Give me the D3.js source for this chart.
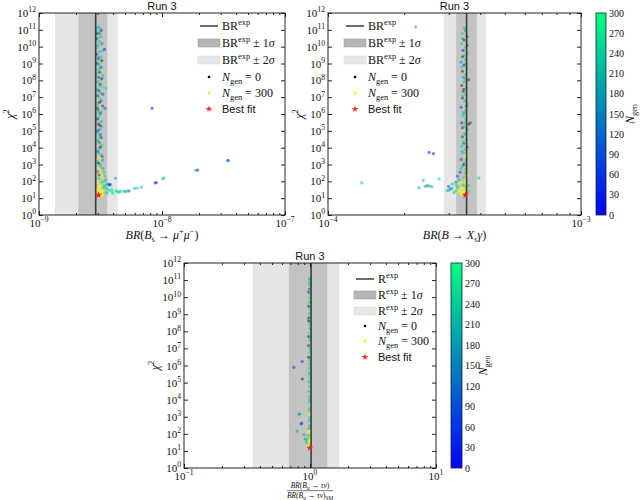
<!DOCTYPE html>
<html>
<head>
<meta charset="utf-8">
<script src="https://cdn.jsdelivr.net/npm/d3@7/dist/d3.min.js"></script>
<style>
  body { margin: 0; background: #fff; }
  svg { display: block; }
  text { font-family: "Liberation Serif", "DejaVu Serif", serif; fill: #111; }
  .sans { font-family: "Liberation Sans", Arial, sans-serif; }
</style>
</head>
<body>
<div id="chart"></div>
<script>
// ---- data ----
const titleText = "Run 3";
const chiExps = [0, 1, 2, 3, 4, 5, 6, 7, 8, 9, 10, 11, 12];
const genTicks = [0, 30, 60, 90, 120, 150, 180, 210, 240, 270, 300];

// B_s -> mu mu : experimental value and bands
const bsmmDomain = [1e-9, 1e-7];
const bsmmExps = [-9, -8, -7];
const bsmmExp = 2.89e-9;
const bsmmBand1 = [2.09e-9, 3.59e-9];
const bsmmBand2 = [1.35e-9, 4.36e-9];
// [BR, chi2, generation]
const bsmmPoints = [
  [3.05e-9, 1.5e11, 250], [3.15e-9, 1.2e11, 220], [3.0e-9, 8e10, 270], [3.1e-9, 6e10, 140],
  [3.2e-9, 4e10, 260], [2.95e-9, 3e10, 100], [3.1e-9, 2e10, 240], [3.25e-9, 1.5e10, 180],
  [3.0e-9, 9e9, 290], [3.4e-9, 7e9, 60], [3.1e-9, 5e9, 230], [2.95e-9, 3.5e9, 70],
  [3.2e-9, 2.5e9, 260], [3.05e-9, 1.8e9, 200], [3.15e-9, 1.2e9, 280], [2.98e-9, 1e9, 0],
  [3.1e-9, 8e8, 250], [3.2e-9, 6e8, 120], [3.0e-9, 4e8, 270], [3.12e-9, 3e8, 0],
  [3.3e-9, 2e8, 230], [3.05e-9, 1.5e8, 90], [3.2e-9, 1.1e8, 260], [3.0e-9, 8e7, 210],
  [3.15e-9, 6e7, 0], [3.25e-9, 4e7, 280], [3.5e-9, 3.5e7, 250], [3.05e-9, 2.5e7, 60],
  [3.15e-9, 1.8e7, 240], [3.0e-9, 1.2e7, 0], [3.1e-9, 9e6, 270], [3.2e-9, 6e6, 130],
  [3.0e-9, 4e6, 250], [3.3e-9, 3e6, 0], [3.45e-9, 2.2e6, 110], [3.05e-9, 1.5e6, 230],
  [3.15e-9, 1.1e6, 80], [3.1e-9, 8e5, 260], [3.0e-9, 5e5, 0], [3.2e-9, 3.5e5, 220],
  [3.05e-9, 2.5e5, 50], [3.25e-9, 1.7e5, 270], [3.1e-9, 1.2e5, 190], [3.0e-9, 8e4, 250],
  [3.15e-9, 6e4, 100], [3.2e-9, 4e4, 0], [3.05e-9, 3e4, 280], [3.1e-9, 2e4, 160],
  [3.25e-9, 1.4e4, 240], [3.1e-9, 9e3, 230], [3.0e-9, 6e3, 70], [3.2e-9, 4e3, 270],
  [3.1e-9, 2.5e3, 300], [3.3e-9, 1.8e3, 200], [3.05e-9, 1.2e3, 0], [3.15e-9, 8e2, 250],
  [3.3e-9, 6e2, 220], [3.0e-9, 4e2, 120], [3.2e-9, 3e2, 300], [3.4e-9, 2e2, 260],
  [3.1e-9, 1.5e2, 280], [3.5e-9, 1.2e2, 240], [3.0e-9, 90, 300], [3.2e-9, 80, 270],
  [3.6e-9, 70, 150], [3.8e-9, 65, 90], [3.4e-9, 55, 250], [3.1e-9, 45, 300],
  [3.3e-9, 40, 260], [3.6e-9, 35, 240], [3.9e-9, 33, 270], [4.2e-9, 28, 280],
  [4.6e-9, 26, 260], [5.0e-9, 25, 250], [3.2e-9, 30, 300], [3.05e-9, 25, 300],
  [3.15e-9, 20, 300], [3.5e-9, 22, 270], [4.0e-9, 20, 280], [4.4e-9, 22, 290],
  [3.1e-9, 18, 300], [3.25e-9, 16, 300], [2.95e-9, 6e10, 0], [3.0e-9, 2e6, 0],
  [2.95e-9, 1.3e11, 230], [3.2e-9, 9e10, 60], [3.1e-9, 3.5e10, 270], [3.0e-9, 1.2e10, 250],
  [3.3e-9, 6e9, 240], [3.05e-9, 2.2e9, 120], [3.25e-9, 1.5e9, 0], [3.1e-9, 5e8, 230],
  [2.95e-9, 2.5e8, 260], [3.25e-9, 1.3e8, 0], [3.1e-9, 5e7, 250], [2.98e-9, 3e7, 270],
  [3.3e-9, 1.5e7, 100], [3.1e-9, 5e6, 0], [2.98e-9, 2.5e6, 240], [3.2e-9, 1.3e6, 260],
  [3.0e-9, 6e5, 270], [3.15e-9, 2e5, 0], [3.0e-9, 1e5, 120], [3.1e-9, 5e4, 270],
  [3.0e-9, 2.5e4, 230], [3.15e-9, 1.1e4, 0], [3.05e-9, 5e3, 260], [3.25e-9, 3e3, 90],
  [3.0e-9, 1.5e3, 250], [3.2e-9, 1e3, 270], [3.05e-9, 5e2, 300], [3.35e-9, 3.5e2, 240],
  [3.1e-9, 2.5e2, 0], [3.25e-9, 1.8e2, 300], [3.35e-9, 1e2, 260], [3.15e-9, 60, 300],
  [3.45e-9, 45, 270], [3.7e-9, 30, 250], [3.3e-9, 25, 300], [3.9e-9, 24, 260],
  [4.3e-9, 25, 270], [3.6e-9, 20, 280], [3.0e-9, 35, 300], [3.2e-9, 14, 300],
  [8.3e-9, 2.2e6, 20], [3.42e-8, 1.7e3, 50], [3.48e-8, 1.75e3, 150], [1.95e-8, 470, 25],
  [1.88e-8, 450, 200], [1.04e-8, 160, 240], [1.01e-8, 140, 230], [9.0e-9, 85, 60],
  [8.8e-9, 80, 50], [6.8e-9, 45, 260], [6.3e-9, 40, 250], [6.0e-9, 38, 240],
  [5.4e-9, 27, 90], [5.2e-9, 26, 200], [4.9e-9, 25, 230], [4.5e-9, 24, 250],
  [4.2e-9, 150, 190], [3.7e-9, 60, 100], [3.75e-9, 65, 80]
];
const bsmmBest = [3.05e-9, 15.5];

// B -> X_s gamma
const bsgDomain = [1e-4, 1e-3];
const bsgExps = [-4, -3];
const bsgExp = 3.53e-4;
const bsgBand1 = [3.21e-4, 3.88e-4];
const bsgBand2 = [2.87e-4, 4.21e-4];
const bsgPoints = [
  [3.45e-4, 1.3e11, 240], [3.5e-4, 9e10, 180], [3.4e-4, 6e10, 260], [3.55e-4, 4e10, 120],
  [3.45e-4, 2.5e10, 0], [3.38e-4, 1.5e10, 250], [3.5e-4, 9e9, 270], [3.42e-4, 6e9, 80],
  [3.55e-4, 4e9, 230], [3.4e-4, 2.5e9, 0], [3.48e-4, 1.7e9, 260], [3.36e-4, 1.2e9, 210],
  [3.45e-4, 8e8, 60], [3.55e-4, 5e8, 250], [3.4e-4, 3.5e8, 0], [3.5e-4, 2.2e8, 270],
  [3.43e-4, 1.5e8, 190], [3.6e-4, 1.1e8, 0], [3.45e-4, 8e7, 240], [3.38e-4, 5e7, 0],
  [3.52e-4, 3.5e7, 270], [3.42e-4, 2.2e7, 110], [3.5e-4, 1.5e7, 250], [3.4e-4, 9e6, 0],
  [3.47e-4, 6e6, 220], [3.55e-4, 4e6, 270], [3.36e-4, 2.5e6, 90], [3.5e-4, 1.6e6, 260],
  [3.45e-4, 1.1e6, 200], [3.42e-4, 8e5, 250], [3.6e-4, 2.5e5, 0], [3.5e-4, 5e5, 270],
  [3.38e-4, 3e5, 60], [3.47e-4, 1.8e5, 240], [3.55e-4, 1.2e5, 230], [3.45e-4, 7e4, 260],
  [3.4e-4, 4.5e4, 0], [3.52e-4, 3e4, 270], [3.44e-4, 1.8e4, 120], [3.38e-4, 1.2e4, 250],
  [3.48e-4, 8e3, 260], [3.42e-4, 5e3, 230], [3.5e-4, 3e3, 300], [3.36e-4, 2e3, 90],
  [3.45e-4, 1.3e3, 270], [3.4e-4, 8e2, 250], [3.5e-4, 5e2, 280], [3.33e-4, 3.5e2, 100],
  [3.55e-4, 2.5e2, 300], [3.45e-4, 1.6e2, 260], [3.3e-4, 1.2e2, 200], [3.2e-4, 90, 150],
  [3.5e-4, 85, 300], [3.1e-4, 70, 230], [3.4e-4, 65, 270], [3.0e-4, 50, 100],
  [3.6e-4, 55, 260], [3.25e-4, 45, 250], [3.45e-4, 40, 300], [3.05e-4, 35, 90],
  [3.55e-4, 32, 270], [2.95e-4, 28, 260], [3.3e-4, 25, 300], [3.5e-4, 22, 300],
  [3.45e-4, 20, 300], [3.38e-4, 18, 300], [3.15e-4, 22, 240], [3.6e-4, 25, 230],
  [3.5e-4, 1.1e11, 260], [3.4e-4, 3e10, 220], [3.55e-4, 1.2e10, 0], [3.45e-4, 3e9, 250],
  [3.52e-4, 1e9, 240], [3.38e-4, 6e8, 270], [3.5e-4, 1.2e8, 230], [3.44e-4, 3e7, 0],
  [3.4e-4, 1.2e7, 260], [3.52e-4, 3e6, 0], [3.42e-4, 1.3e6, 270], [3.48e-4, 3e5, 250],
  [3.4e-4, 1.5e5, 0], [3.5e-4, 6e4, 230], [3.42e-4, 2.5e4, 270], [3.55e-4, 1.1e4, 0],
  [3.38e-4, 6e3, 250], [3.52e-4, 2e3, 270], [3.44e-4, 1e3, 0], [3.36e-4, 6e2, 240],
  [3.5e-4, 3e2, 260], [3.25e-4, 2e2, 110], [3.5e-4, 1.3e2, 300], [3.35e-4, 80, 300],
  [3.2e-4, 60, 270], [3.45e-4, 50, 260], [3.1e-4, 40, 240], [3.35e-4, 35, 300],
  [3.0e-4, 30, 210], [3.55e-4, 28, 300], [3.2e-4, 28, 280], [3.4e-4, 22, 300],
  [2.22e-4, 1.5e11, 190], [2.51e-4, 5.2e3, 30], [2.61e-4, 4.4e3, 40], [1.36e-4, 80, 220],
  [2.38e-4, 115, 230], [2.29e-4, 42, 210], [2.42e-4, 50, 190], [2.47e-4, 55, 150],
  [2.52e-4, 52, 200], [2.57e-4, 48, 220], [2.75e-4, 140, 250], [3.95e-4, 160, 240],
  [3.65e-4, 3e5, 0]
];
const bsgBest = [3.49e-4, 15.5];

// B_u -> tau nu ratio
const btnDomain = [1e-1, 1e1];
const btnExps = [-1, 0, 1];
const btnExp = 1.02;
const btnBand1 = [0.68, 1.37];
const btnBand2 = [0.35, 1.71];
const btnPoints = [
  [0.995, 1.2e11, 200], [0.99, 8e10, 240], [0.998, 5e10, 260], [0.99, 3e10, 90],
  [0.995, 1.5e10, 250], [0.99, 9e9, 270], [0.995, 5e9, 230], [0.975, 3e9, 0],
  [0.998, 1.8e9, 260], [0.99, 1.1e9, 220], [0.995, 7e8, 250], [0.975, 4e8, 0],
  [0.99, 2.5e8, 270], [0.998, 1.5e8, 240], [0.99, 8e7, 260], [0.975, 5e7, 0],
  [0.995, 3e7, 230], [0.975, 1.5e7, 0], [0.998, 1e7, 250], [0.99, 6e6, 270],
  [0.975, 3e6, 0], [0.995, 2e6, 240], [0.99, 1.2e6, 260], [0.995, 7e5, 230],
  [0.99, 4e5, 250], [0.998, 2e5, 270], [0.99, 1.2e5, 240], [0.995, 6e4, 260],
  [0.99, 3e4, 230], [0.998, 1.5e4, 250], [0.99, 7e3, 270], [0.995, 3e3, 240],
  [0.998, 1.5e3, 300], [0.99, 6e2, 260], [0.995, 3e2, 250], [0.98, 2e2, 200],
  [0.998, 1.2e2, 300], [0.97, 80, 230], [0.99, 60, 300], [0.96, 45, 220],
  [0.995, 40, 300], [0.98, 30, 260], [0.99, 25, 300], [0.995, 20, 300],
  [0.985, 18, 300], [0.975, 2e10, 0], [0.975, 6e8, 0],
  [0.99, 6e10, 260], [0.995, 2.5e9, 250], [0.99, 4e8, 230], [0.995, 4e7, 270],
  [0.99, 3e6, 250], [0.995, 3e5, 240], [0.99, 1e5, 270], [0.995, 1e4, 240],
  [0.99, 2e3, 260], [0.995, 9e2, 270], [0.99, 1.5e2, 300], [0.975, 60, 250],
  [0.985, 35, 300], [0.965, 28, 240],
  [0.867, 1.7e6, 80], [0.745, 7.8e5, 90], [0.87, 1.6e5, 0], [0.82, 1.4e3, 180],
  [0.83, 1.5e3, 200], [0.85, 380, 100], [0.86, 420, 110], [0.79, 145, 190],
  [0.9, 90, 200], [0.92, 50, 180], [0.94, 35, 230]
];
const btnBest = [1.0, 15];

// ---- layout ----
const W = 640, H = 500;
const svg = d3.select("#chart").append("svg").attr("width", W).attr("height", H);
const genColor = d3.scaleLinear().domain([0, 300]).range(["#0000ff", "#00ff80"]);
const band1Fill = "#c3c3c3", band2Fill = "#e6e6e6", lineColor = "#3c3c3c";

function rich(text, parts, size) {
  let shift = 0;
  text.attr("font-size", size);
  parts.forEach(([t, k]) => {
    const lvl = k === "sup" ? -0.42 * size : k === "sub" ? 0.28 * size : 0;
    const ts = text.append("tspan").text(t);
    if (lvl !== shift) ts.attr("dy", lvl - shift);
    shift = lvl;
    if (k === "sup" || k === "sub") ts.attr("font-size", size * 0.7);
    if (k === "i") ts.attr("font-style", "italic");
  });
  return text;
}

const isDecade = v => Math.abs(Math.log10(v) - Math.round(Math.log10(v))) < 1e-6;
const powParts = e => [["10", ""], [e < 0 ? "−" + (-e) : String(e), "sup"]];

function drawPanel(p) {
  const x = d3.scaleLog().domain(p.domain).range([p.l, p.r]);
  const y = d3.scaleLog().domain([1, 1e12]).range([p.b, p.t]);
  const g = svg.append("g");

  g.append("clipPath").attr("id", "clip" + p.id)
    .append("rect").attr("x", p.l).attr("y", p.t).attr("width", p.r - p.l).attr("height", p.b - p.t);
  const plot = g.append("g").attr("clip-path", `url(#clip${p.id})`);

  plot.append("rect").attr("x", x(p.band2[0])).attr("width", x(p.band2[1]) - x(p.band2[0]))
    .attr("y", p.t).attr("height", p.b - p.t).attr("fill", band2Fill);
  plot.append("rect").attr("x", x(p.band1[0])).attr("width", x(p.band1[1]) - x(p.band1[0]))
    .attr("y", p.t).attr("height", p.b - p.t).attr("fill", band1Fill);

  const mid = p.points.filter(d => d[2] > 0 && d[2] < 300);
  const first = p.points.filter(d => d[2] === 0);
  const last = p.points.filter(d => d[2] === 300);
  plot.append("g").selectAll("circle").data(mid).join("circle")
    .attr("cx", d => x(d[0])).attr("cy", d => y(d[1])).attr("r", 1.6)
    .attr("fill", d => genColor(d[2])).attr("fill-opacity", 0.55);
  plot.append("g").selectAll("circle").data(first).join("circle")
    .attr("cx", d => x(d[0])).attr("cy", d => y(d[1])).attr("r", 1.5)
    .attr("fill", "#000").attr("fill-opacity", 0.4);
  plot.append("g").selectAll("circle").data(last).join("circle")
    .attr("cx", d => x(d[0])).attr("cy", d => y(d[1])).attr("r", 2.2)
    .attr("fill", "#ffff00").attr("fill-opacity", 0.4);

  plot.append("line").attr("x1", x(p.exp)).attr("x2", x(p.exp)).attr("y1", p.t).attr("y2", p.b)
    .attr("stroke", lineColor).attr("stroke-width", 1.6);

  plot.append("path").attr("d", d3.symbol(d3.symbolStar, 16)())
    .attr("transform", `translate(${x(p.best[0])},${y(p.best[1])})`).attr("fill", "#ff2020");

  // ticks, inward on all four sides
  const minorX = x.ticks().filter(v => !isDecade(v));
  const majorX = p.exps.map(e => Math.pow(10, e));
  const majorY = chiExps.map(e => Math.pow(10, e));
  const tk = (axis, tr) => g.append("g").attr("transform", tr).call(axis)
    .call(s => s.select(".domain").remove()).call(s => s.selectAll("line").attr("stroke", "#222"));
  tk(d3.axisBottom(x).tickValues(minorX).tickSize(-2).tickFormat(""), `translate(0,${p.b})`);
  tk(d3.axisBottom(x).tickValues(majorX).tickSize(-4).tickFormat(""), `translate(0,${p.b})`);
  tk(d3.axisTop(x).tickValues(minorX).tickSize(-2).tickFormat(""), `translate(0,${p.t})`);
  tk(d3.axisTop(x).tickValues(majorX).tickSize(-4).tickFormat(""), `translate(0,${p.t})`);
  tk(d3.axisLeft(y).tickValues(majorY).tickSize(-4).tickFormat(""), `translate(${p.l},0)`);
  tk(d3.axisRight(y).tickValues(majorY).tickSize(-4).tickFormat(""), `translate(${p.r},0)`);

  g.append("rect").attr("x", p.l).attr("y", p.t).attr("width", p.r - p.l).attr("height", p.b - p.t)
    .attr("fill", "none").attr("stroke", "#222").attr("stroke-width", 1);

  p.exps.forEach(e => {
    rich(g.append("text").attr("x", x(Math.pow(10, e))).attr("y", p.b + 12).attr("text-anchor", "middle"), powParts(e), 11);
  });
  chiExps.forEach(e => {
    rich(g.append("text").attr("x", p.l - 3).attr("y", y(Math.pow(10, e)) + 4).attr("text-anchor", "end"), powParts(e), 11);
  });

  g.append("text").attr("class", "sans").attr("x", (p.l + p.r) / 2).attr("y", p.t - 3)
    .attr("text-anchor", "middle").attr("font-size", 11).text(titleText);

  rich(g.append("text").attr("transform", `translate(${p.l - 25},${(p.t + p.b) / 2}) rotate(-90)`)
    .attr("text-anchor", "middle"), [["χ", "i"], ["2", "sup"]], 12);

  // legend
  const L = p.legend, rows = L.rows, hx = L.x, tx = L.x + 13;
  g.append("line").attr("x1", hx - 9).attr("x2", hx + 9).attr("y1", rows[0]).attr("y2", rows[0])
    .attr("stroke", lineColor).attr("stroke-width", 1.5);
  g.append("rect").attr("x", hx - 11).attr("y", rows[1] - 4).attr("width", 22).attr("height", 8)
    .attr("fill", "#b5b5b5").attr("stroke", "#a0a0a0").attr("stroke-width", 0.6);
  g.append("rect").attr("x", hx - 11).attr("y", rows[2] - 4).attr("width", 22).attr("height", 8)
    .attr("fill", band2Fill).attr("stroke", "#dadada").attr("stroke-width", 0.6);
  g.append("circle").attr("cx", hx).attr("cy", rows[3]).attr("r", 1.3).attr("fill", "#000");
  g.append("circle").attr("cx", hx).attr("cy", rows[4]).attr("r", 1.3).attr("fill", "#ffee00");
  g.append("path").attr("d", d3.symbol(d3.symbolStar, 14)())
    .attr("transform", `translate(${hx},${rows[5]})`).attr("fill", "#ff2020");

  const sym = [[p.sym, ""], ["exp", "sup"]];
  const labels = [
    sym,
    sym.concat([[" ± 1", ""], ["σ", "i"]]),
    sym.concat([[" ± 2", ""], ["σ", "i"]]),
    [["N", "i"], ["gen", "sub"], [" = 0", ""]],
    [["N", "i"], ["gen", "sub"], [" = 300", ""]]
  ];
  labels.forEach((parts, i) => rich(g.append("text").attr("x", tx).attr("y", rows[i] + 4), parts, 12));
  g.append("text").attr("class", "sans").attr("x", tx).attr("y", rows[5] + 4)
    .attr("font-size", 11).text("Best fit");

  p.xlabel(g, (p.l + p.r) / 2, p.b);
}

function colorbar(c) {
  const s = d3.scaleLinear().domain([0, 300]).range([c.b, c.t]);
  const gid = "grad" + c.id;
  const grad = svg.append("defs").append("linearGradient").attr("id", gid)
    .attr("x1", 0).attr("y1", 1).attr("x2", 0).attr("y2", 0);
  grad.append("stop").attr("offset", 0).attr("stop-color", genColor(0));
  grad.append("stop").attr("offset", 1).attr("stop-color", genColor(300));
  svg.append("rect").attr("x", c.l).attr("y", c.t).attr("width", c.r - c.l).attr("height", c.b - c.t)
    .attr("fill", `url(#${gid})`).attr("stroke", "#222").attr("stroke-width", 0.8);
  genTicks.forEach(v => {
    svg.append("text").attr("x", c.r + 3).attr("y", s(v) + 3.5).attr("font-size", 10).text(v);
  });
  rich(svg.append("text").attr("transform", `translate(${c.lx},${(c.t + c.b) / 2}) rotate(-90)`)
    .attr("text-anchor", "middle"), [["N", "i"], ["gen", "sub"]], 12);
}

drawPanel({
  id: 1, l: 39, r: 285, t: 13, b: 215, domain: bsmmDomain, exps: bsmmExps,
  exp: bsmmExp, band1: bsmmBand1, band2: bsmmBand2, points: bsmmPoints, best: bsmmBest, sym: "BR",
  legend: { x: 209, rows: [26, 43, 60, 77, 93, 109] },
  xlabel: (g, cx, b) => rich(g.append("text").attr("x", cx).attr("y", b + 24).attr("text-anchor", "middle"),
    [["BR", "i"], ["(", ""], ["B", "i"], ["s", "sub"], [" → ", ""], ["μ", "i"], ["+", "sup"], ["μ", "i"], ["−", "sup"], [")", ""]], 12)
});

drawPanel({
  id: 2, l: 328, r: 581, t: 13, b: 215, domain: bsgDomain, exps: bsgExps,
  exp: bsgExp, band1: bsgBand1, band2: bsgBand2, points: bsgPoints, best: bsgBest, sym: "BR",
  legend: { x: 355, rows: [26, 43, 60, 77, 93, 109] },
  xlabel: (g, cx, b) => rich(g.append("text").attr("x", cx).attr("y", b + 24).attr("text-anchor", "middle"),
    [["BR", "i"], ["(", ""], ["B", "i"], [" → ", ""], ["X", "i"], ["s", "sub"], ["γ", "i"], [")", ""]], 12)
});
colorbar({ id: 2, l: 596, r: 606, t: 13, b: 215, lx: 634 });

drawPanel({
  id: 3, l: 184, r: 436, t: 263, b: 468, domain: btnDomain, exps: btnExps,
  exp: btnExp, band1: btnBand1, band2: btnBand2, points: btnPoints, best: btnBest, sym: "R",
  legend: { x: 365, rows: [279, 295, 311, 326, 341, 357] },
  xlabel: (g, cx, b) => {
    const num = [["BR", "i"], ["(", ""], ["B", "i"], ["u", "sub"], [" → ", ""], ["τν", "i"], [")", ""]];
    rich(g.append("text").attr("x", cx).attr("y", b + 20).attr("text-anchor", "middle"), num, 7.5);
    const den = rich(g.append("text").attr("x", cx).attr("y", b + 29.5).attr("text-anchor", "middle"),
      num.concat([["SM", "sub"]]), 7.5);
    const w = den.node().getComputedTextLength();
    g.append("line").attr("x1", cx - w / 2).attr("x2", cx + w / 2).attr("y1", b + 22.7).attr("y2", b + 22.7)
      .attr("stroke", "#222").attr("stroke-width", 0.6);
  }
});
colorbar({ id: 3, l: 451, r: 462, t: 263, b: 468, lx: 487 });
</script>
</body>
</html>
